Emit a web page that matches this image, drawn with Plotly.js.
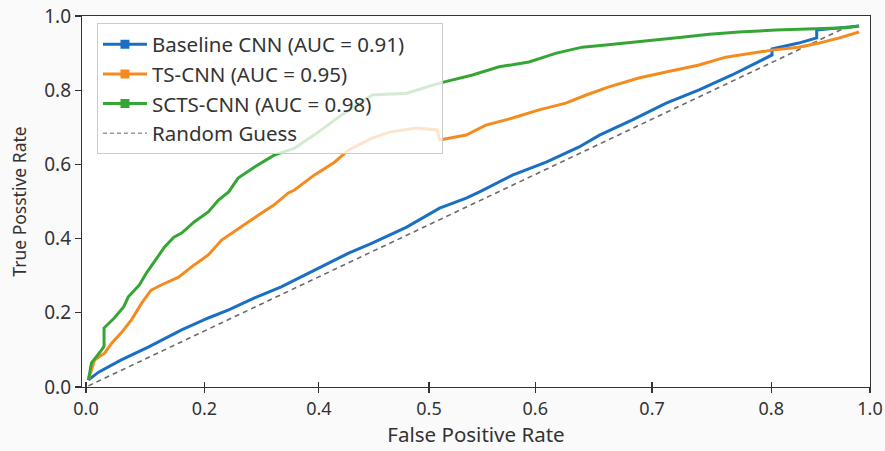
<!DOCTYPE html>
<html>
<head>
<meta charset="utf-8">
<script src="https://cdn.plot.ly/plotly-3.0.1.min.js"></script>
<style>html,body{margin:0;padding:0;background:#fafafa;}#chart{width:885px;height:451px;}</style>
</head>
<body>
<div id="chart"></div>
<script>
// Series names
const seriesNames = ["Baseline CNN (AUC = 0.91)", "TS-CNN (AUC = 0.95)", "SCTS-CNN (AUC = 0.98)", "Random Guess"];

// Baseline CNN ROC
const baseFpr = [0.003,0.016,0.045,0.080,0.122,0.156,0.182,0.215,0.249,0.291,0.335,0.365,0.409,0.451,0.485,0.502,0.544,0.587,0.629,0.655,0.697,0.740,0.782,0.824,0.875,0.875,0.909,0.932,0.932,0.961,0.986];
const baseTpr = [0.019,0.040,0.073,0.108,0.154,0.186,0.208,0.240,0.270,0.315,0.361,0.388,0.431,0.482,0.509,0.526,0.571,0.606,0.647,0.679,0.720,0.765,0.801,0.841,0.895,0.911,0.927,0.941,0.962,0.968,0.973];

// TS-CNN ROC
const tsFpr = [0.003,0.011,0.024,0.033,0.045,0.058,0.071,0.083,0.096,0.118,0.138,0.156,0.173,0.189,0.207,0.224,0.240,0.258,0.266,0.291,0.317,0.335,0.365,0.387,0.421,0.448,0.451,0.485,0.510,0.544,0.578,0.612,0.638,0.667,0.705,0.740,0.782,0.816,0.850,0.875,0.909,0.935,0.961,0.986];
const tsTpr = [0.019,0.073,0.092,0.119,0.146,0.181,0.226,0.261,0.275,0.296,0.329,0.356,0.396,0.418,0.445,0.469,0.491,0.523,0.531,0.571,0.606,0.639,0.671,0.687,0.698,0.693,0.666,0.679,0.706,0.725,0.747,0.765,0.787,0.809,0.833,0.849,0.868,0.889,0.900,0.908,0.916,0.927,0.941,0.957];

// SCTS-CNN ROC
const sctsFpr = [0.003,0.007,0.020,0.023,0.023,0.036,0.048,0.054,0.068,0.077,0.087,0.100,0.112,0.122,0.138,0.156,0.169,0.182,0.194,0.215,0.240,0.266,0.291,0.326,0.365,0.409,0.451,0.493,0.527,0.565,0.600,0.633,0.663,0.718,0.760,0.795,0.833,0.880,0.931,0.970,0.986];
const sctsTpr = [0.019,0.065,0.100,0.110,0.159,0.186,0.216,0.243,0.275,0.307,0.337,0.377,0.404,0.415,0.445,0.472,0.504,0.526,0.563,0.593,0.625,0.644,0.679,0.733,0.787,0.792,0.819,0.841,0.863,0.876,0.900,0.916,0.922,0.935,0.943,0.951,0.957,0.962,0.965,0.968,0.973];

// Random guess diagonal
const randFpr = [0.003, 0.97];
const randTpr = [0.003, 0.97];

// Axis tick labels
const xTickLabels = ["0.0","0.2","0.4","0.5","0.6","0.7","0.8","1.0"];
const xTickPos = [0, 0.151, 0.297, 0.4375, 0.573, 0.722, 0.874, 1.0];
const yTickVals = [0, 0.2, 0.4, 0.6, 0.8, 1.0];
const yTickLabels = ["0.0","0.2","0.4","0.6","0.8","1.0"];

const colors = ["#1a6fc4", "#f58b1f", "#35a635", "#777777"];
const FONT = "Noto Sans, Open Sans, DejaVu Sans, sans-serif";
const PAD = "\u00a0\u00a0\u00a0\u00a0\u00a0\u00a0";  // right padding inside the legend box

const traces = [
  {x: randFpr, y: randTpr, mode: "lines", line: {color: "#6b6b6b", width: 1.6, dash: "5px,4px"}, showlegend: false, hoverinfo: "skip"},
  {x: baseFpr, y: baseTpr, mode: "lines", line: {color: colors[0], width: 3}, showlegend: false},
  {x: tsFpr, y: tsTpr, mode: "lines", line: {color: colors[1], width: 3}, showlegend: false},
  {x: sctsFpr, y: sctsTpr, mode: "lines", line: {color: colors[2], width: 3}, showlegend: false}
];
// legend entries
for (let i = 0; i < 3; i++) {
  traces.push({x: [null], y: [null], name: seriesNames[i] + (i === 0 ? PAD : ""), mode: "lines+markers",
    line: {color: colors[i], width: 3}, marker: {symbol: "square", size: 9, color: colors[i]},
    showlegend: true});
}
traces.push({x: [null], y: [null], name: seriesNames[3], mode: "lines",
  line: {color: "#999999", width: 1.5, dash: "4px,3px"}, showlegend: true});

const layout = {
  width: 885, height: 451,
  margin: {l: 82, r: 15, t: 16, b: 64},
  paper_bgcolor: "#fafafa",
  plot_bgcolor: "#ffffff",
  font: {family: FONT, color: "#333333"},
  xaxis: {
    range: [-0.0051, 1], tickvals: xTickPos, ticktext: xTickLabels,
    showgrid: false, zeroline: false, showline: true, mirror: true,
    linecolor: "#333333", linewidth: 1.2,
    ticks: "outside", ticklen: 5, tickcolor: "#333333", tickwidth: 1.2,
    tickfont: {size: 18, family: FONT, color: "#333333"},
    title: {text: "False Positive Rate", font: {size: 20.5, family: FONT, color: "#333333"}, standoff: 6}
  },
  xaxis2: {
    overlaying: "x", anchor: "y", side: "bottom", range: [-0.0051, 1], tickvals: xTickPos,
    showticklabels: false, showgrid: false, zeroline: false, showline: false,
    ticks: "inside", ticklen: 5, tickcolor: "#333333", tickwidth: 1.2
  },
  yaxis: {
    range: [0, 1], tickvals: yTickVals, ticktext: yTickLabels,
    showgrid: false, zeroline: false, showline: true, mirror: true,
    linecolor: "#333333", linewidth: 1.2,
    ticks: "outside", ticklen: 6, tickcolor: "#333333", tickwidth: 1.2,
    tickfont: {size: 19, family: FONT, color: "#333333"},
    title: {text: "True Posstive Rate", font: {size: 17.5, family: FONT, color: "#333333"}, standoff: 13}
  },
  legend: {
    x: 0.019, y: 0.98, xanchor: "left", yanchor: "top",
    bgcolor: "rgba(255,255,255,0.78)", bordercolor: "#cccccc", borderwidth: 1,
    font: {size: 20.5, family: FONT, color: "#333333"},
    traceorder: "normal", itemwidth: 44
  },
  showlegend: true
};
// dummy trace for the inside ticks axis
traces.push({x: [null], y: [null], xaxis: "x2", yaxis: "y", showlegend: false, hoverinfo: "skip"});

Plotly.newPlot("chart", traces, layout, {displayModeBar: false, staticPlot: true});
</script>
</body>
</html>
